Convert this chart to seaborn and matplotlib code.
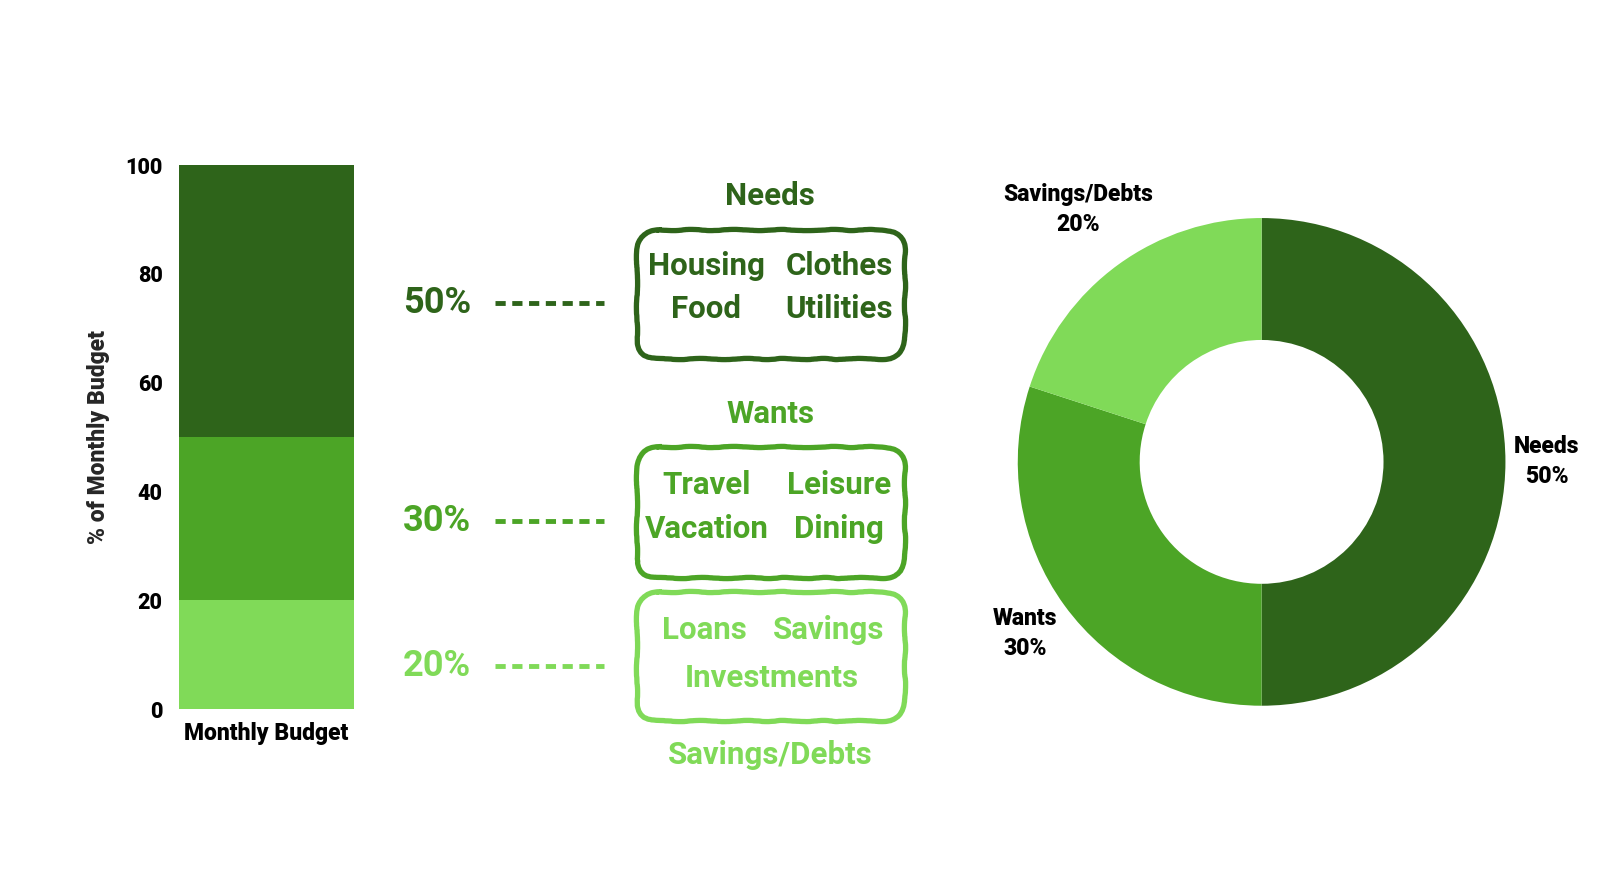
import numpy as np
import pandas as pd
import matplotlib
matplotlib.use("Agg")
import matplotlib.pyplot as plt
import seaborn as sns
from matplotlib.patches import FancyBboxPatch

# data
categories = ["Needs", "Wants", "Savings/Debts"]
shares = [50, 30, 20]
colors = ["#2E641A", "#4CA526", "#80DA58"]
examples = [
    ["Housing", "Clothes", "Food", "Utilities"],
    ["Travel", "Leisure", "Vacation", "Dining"],
    ["Loans", "Savings", "Investments"],
]
bar_label = "Monthly Budget"

sns.set_theme(style="white")
plt.rcParams["font.family"] = ["Roboto", "DejaVu Sans"]

fig = plt.figure(figsize=(16, 8.96), dpi=100)

# stacked bar (draw cumulative heights, tallest first)
ax_bar = fig.add_axes([0.112, 0.2087, 0.109, 0.6071])
stack = pd.DataFrame({"cat": categories, "share": shares, "color": colors})
stack = stack.iloc[::-1].reset_index(drop=True)
stack["top"] = stack["share"].cumsum()
for _, row in stack.iloc[::-1].iterrows():
    sns.barplot(x=[bar_label], y=[row["top"]], color=row["color"], saturation=1,
                width=1.0, linewidth=0, ax=ax_bar)
ax_bar.set_xlim(-0.5, 0.5)
ax_bar.set_ylim(0, 100)
ax_bar.set_yticks([0, 20, 40, 60, 80, 100])
ax_bar.tick_params(axis="y", length=0, labelsize=15.5, colors="black", pad=12)
ax_bar.tick_params(axis="x", length=0, labelsize=16.5, colors="black", pad=9)
for lab in ax_bar.get_xticklabels() + ax_bar.get_yticklabels():
    lab.set_fontweight("heavy")
ax_bar.set_ylabel("% of Monthly Budget", fontsize=16.5, fontweight="heavy", labelpad=11)
ax_bar.set_xlabel("")
sns.despine(ax=ax_bar, left=True, bottom=True)

# donut
ax_pie = fig.add_axes([0.598, 0.144, 0.381, 0.681])
ax_pie.pie(shares, colors=colors, startangle=90, counterclock=False,
           wedgeprops=dict(width=0.5, linewidth=0))
label_r = [1.17, 1.2, 1.28]
before = np.concatenate([[0], np.cumsum(shares)[:-1]])
for cat, s, b, r in zip(categories, shares, before, label_r):
    ang = np.deg2rad(90 - 360 * (b + s / 2) / 100)
    ax_pie.text(r * np.cos(ang), r * np.sin(ang), f"{cat}\n{s}%", ha="center", va="center",
                fontsize=16.5, fontweight="heavy", color="black", linespacing=1.4)

# middle panel in pixel coordinates
ax_mid = fig.add_axes([0, 0, 1, 1], facecolor="none")
ax_mid.set_xlim(0, 1600)
ax_mid.set_ylim(896, 0)
ax_mid.axis("off")

boxes = [(637, 230, 268, 129), (637, 447, 268, 131), (637, 592, 268, 129)]
pct_y = [303, 521, 666]
header_y = [196, 414, 755]
word_pos = [
    [(706, 266), (839, 266), (706, 309), (839, 309)],
    [(707, 485), (839, 485), (707, 529), (839, 529)],
    [(704, 630), (829, 630), (772, 678)],
]
for i, cat in enumerate(categories):
    col = colors[i]
    x0, y0, w, h = boxes[i]
    box = FancyBboxPatch((x0 + 22, y0 + 22), w - 44, h - 44,
                         boxstyle="round,pad=22,rounding_size=22",
                         fill=False, edgecolor=col, linewidth=3.8)
    box.set_sketch_params(scale=0.6, length=60, randomness=4)
    ax_mid.add_patch(box)
    ax_mid.text(770, header_y[i], cat, ha="center", va="center", fontsize=22.5,
                fontweight="bold", color=col)
    for word, (wx, wy) in zip(examples[i], word_pos[i]):
        ax_mid.text(wx, wy, word, ha="center", va="center", fontsize=22.5,
                    fontweight="bold", color=col)
    ax_mid.text(437, pct_y[i], f"{shares[i]}%", ha="center", va="center", fontsize=26,
                fontweight="bold", color=col)
    ax_mid.plot([495, 604], [pct_y[i], pct_y[i]], color=col, linewidth=3.5,
                linestyle=(0, (2.1, 1.35)), solid_capstyle="butt")

fig.savefig("out.png", dpi=100, facecolor="white")
